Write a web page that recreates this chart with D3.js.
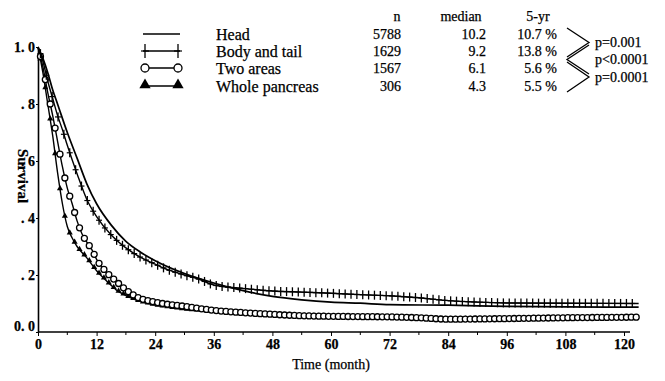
<!DOCTYPE html>
<html>
<head>
<meta charset="utf-8">
<script src="https://cdn.jsdelivr.net/npm/d3@7"></script>
<style>
  body { margin: 0; background: #fff; }
</style>
</head>
<body>
<div id="chart"></div>
<script>
// survival curves: [month, survival]
var headPts = [[0,1],[1,0.96],[2,0.91],[3,0.85],[4,0.80],[6,0.70],[8,0.61],[10,0.52],[12,0.45],[15,0.375],
  [18,0.318],[21,0.28],[24,0.25],[30,0.205],[36,0.172],[42,0.145],[48,0.125],[54,0.113],[60,0.105],[66,0.101],
  [72,0.096],[84,0.094],[96,0.09],[108,0.088],[123,0.087]];
var bodyPts = [[0,1],[1,0.95],[2,0.88],[3,0.82],[4,0.76],[5,0.71],[6,0.655],[8,0.555],[10,0.465],[12,0.405],
  [15,0.34],[18,0.295],[21,0.262],[24,0.238],[27,0.216],[30,0.2],[33,0.185],[36,0.165],[42,0.153],[48,0.144],
  [54,0.14],[60,0.136],[66,0.131],[72,0.127],[78,0.12],[84,0.11],[90,0.105],[96,0.102],[108,0.101],[123,0.1]];
var twoPts = [[0,1],[1,0.93],[2,0.84],[3,0.76],[4,0.67],[5,0.58],[6,0.505],[7,0.45],[8,0.39],[9,0.345],
  [10,0.315],[11,0.29],[12,0.255],[14,0.21],[16,0.178],[18,0.148],[20,0.125],[24,0.105],[30,0.09],[36,0.076],
  [42,0.068],[48,0.062],[54,0.057],[60,0.055],[66,0.054],[72,0.053],[78,0.05],[84,0.045],[96,0.047],[108,0.05],[123,0.052]];
var wholePts = [[0,1],[1,0.91],[2,0.80],[3,0.69],[4,0.56],[5,0.45],[6,0.37],[7,0.33],[8,0.3],[10,0.26],
  [12,0.215],[14,0.18],[16,0.148],[18,0.128],[20,0.113],[24,0.095],[30,0.08],[36,0.072],[42,0.065],[48,0.06],
  [54,0.056],[60,0.054],[66,0.052],[72,0.05],[84,0.044],[96,0.046],[108,0.048],[123,0.05]];

// legend / table
var groups = ["Head", "Body and tail", "Two areas", "Whole pancreas"];
var markerTypes = ["none", "plus", "circle", "triangle"];
var nValues = ["5788", "1629", "1567", "306"];
var medians = ["10.2", "9.2", "6.1", "4.3"];
var fiveYr = ["10.7 %", "13.8 %", "5.6 %", "5.5 %"];
var pValues = ["p=0.001", "p<0.0001", "p=0.0001"];

var xTicks = [0, 12, 24, 36, 48, 60, 72, 84, 96, 108, 120];
var yTicks = [0, 0.2, 0.4, 0.6, 0.8, 1.0];
var yTickLabels = ["0. 0", ". 2", ". 4", ". 6", ". 8", "1. 0"];

var W = 665, H = 381;

var svg = d3.select("#chart").append("svg")
  .attr("width", W)
  .attr("height", H);

// pick a Times-like face that is really installed
var probe = svg.append("text").style("font-size", "40px").text("Whole pancreas 5788");
function widthWith(f) { probe.style("font-family", f); return probe.node().getComputedTextLength(); }
var baseW = widthWith("monospace");
var serif = "serif";
["Liberation Serif", "Times New Roman", "Tinos", "Nimbus Roman", "FreeSerif"].some(function(f) {
  if (Math.abs(widthWith('"' + f + '", monospace') - baseW) > 0.5) { serif = '"' + f + '", serif'; return true; }
  return false;
});
probe.remove();

var x = d3.scaleLinear().domain([0, 120]).range([38, 624]);
var y = d3.scaleLinear().domain([0, 1]).range([332, 47]);

// axes
var xAxis = svg.append("g")
  .attr("transform", "translate(0," + y(0) + ")")
  .call(d3.axisBottom(x).tickValues(xTicks).tickSize(4).tickSizeOuter(0).tickPadding(3));
// minor ticks between labels
xAxis.selectAll(".minor")
  .data(xTicks.slice(0, -1).map(function(d) { return d + 6; }))
  .enter().append("line")
  .attr("x1", function(d) { return x(d); })
  .attr("x2", function(d) { return x(d); })
  .attr("y1", 0).attr("y2", 3)
  .attr("stroke", "#000");
xAxis.select(".domain").attr("stroke-width", 1.6).attr("d", "M" + x(0) + ",0H" + (x(120) + 6));
xAxis.selectAll("text").style("font-size", "14px").style("font-weight", "bold");

var yAxis = svg.append("g")
  .attr("transform", "translate(" + x(0) + ",0)")
  .call(d3.axisLeft(y).tickValues(yTicks).tickSize(2).tickSizeOuter(0).tickPadding(1)
    .tickFormat(function(d, i) { return yTickLabels[i]; }));
yAxis.select(".domain").attr("stroke-width", 1.6);
yAxis.selectAll("text").style("font-size", "14px").style("font-weight", "bold")
  .attr("dy", function(d) { return d === 0 ? "-0.1em" : "0.32em"; });

svg.append("text")
  .attr("x", 331).attr("y", 369)
  .attr("text-anchor", "middle")
  .style("font-size", "14px")
  .text("Time (month)");

svg.append("text")
  .attr("transform", "translate(18,176) rotate(90)")
  .attr("text-anchor", "middle")
  .style("font-size", "15px")
  .style("font-weight", "bold")
  .text("Survival");

// curves
var line = d3.line()
  .x(function(d) { return x(d[0]); })
  .y(function(d) { return y(d[1]); })
  .curve(d3.curveMonotoneX);

var allPts = [headPts, bodyPts, twoPts, wholePts];

function pointAtX(node, xv) {
  var lo = 0, hi = node.getTotalLength();
  for (var k = 0; k < 30; k++) {
    var mid = (lo + hi) / 2;
    if (node.getPointAtLength(mid).x < xv) lo = mid; else hi = mid;
  }
  return node.getPointAtLength(hi);
}

function drawMarker(g, type, px, py, big) {
  if (type === "plus") {
    var v = big ? 7 : 4.5, h = big ? 4 : 3;
    g.append("line").attr("x1", px).attr("x2", px).attr("y1", py - v).attr("y2", py + v)
      .attr("stroke", "#000").attr("stroke-width", 1.3);
    g.append("line").attr("x1", px - h).attr("x2", px + h).attr("y1", py).attr("y2", py)
      .attr("stroke", "#000").attr("stroke-width", 1.2);
  } else if (type === "circle") {
    g.append("circle").attr("cx", px).attr("cy", py).attr("r", big ? 4 : 3)
      .attr("fill", "#fff").attr("stroke", "#000").attr("stroke-width", 1.3);
  } else if (type === "triangle") {
    g.append("path")
      .attr("d", d3.symbol().type(d3.symbolTriangle).size(big ? 55 : 16)())
      .attr("transform", "translate(" + px + "," + (py - (big ? 1 : 0.5)) + ")")
      .attr("fill", "#000");
  }
}

// draw lower groups first so the top curves sit over them
[3, 2, 1, 0].forEach(function(i) {
  var g = svg.append("g");
  var p = g.append("path")
    .datum(allPts[i])
    .attr("d", line)
    .attr("fill", "none")
    .attr("stroke", "#000")
    .attr("stroke-width", i === 0 ? 1.7 : 1.4);
  if (markerTypes[i] !== "none") {
    var node = p.node();
    var step = markerTypes[i] === "plus" ? 1.2 : 1;
    for (var m = 0.5; m <= 122.5; m += step) {
      var pt = pointAtX(node, x(m));
      drawMarker(g, markerTypes[i], pt.x, pt.y, false);
    }
  }
});

// legend and table
var rowY = [34, 51, 68, 86];
var leg = svg.append("g").style("font-size", "14px");

groups.forEach(function(name, i) {
  var yy = rowY[i];
  leg.append("line").attr("x1", 143).attr("x2", 180).attr("y1", yy).attr("y2", yy)
    .attr("stroke", "#000").attr("stroke-width", 1.4);
  if (markerTypes[i] !== "none") {
    drawMarker(leg, markerTypes[i], 145, yy, true);
    drawMarker(leg, markerTypes[i], 178, yy, true);
  }
  leg.append("text").attr("x", 216).attr("y", yy).attr("dy", "0.35em")
    .style("font-size", "16px").text(name);
  leg.append("text").attr("x", 401).attr("y", yy).attr("dy", "0.35em")
    .attr("text-anchor", "end").text(nValues[i]);
  leg.append("text").attr("x", 486).attr("y", yy).attr("dy", "0.35em")
    .attr("text-anchor", "end").text(medians[i]);
  leg.append("text").attr("x", 557).attr("y", yy).attr("dy", "0.35em")
    .attr("text-anchor", "end").text(fiveYr[i]);
});

leg.append("text").attr("x", 397).attr("y", 16).attr("dy", "0.35em").attr("text-anchor", "middle").text("n");
leg.append("text").attr("x", 461).attr("y", 16).attr("dy", "0.35em").attr("text-anchor", "middle").text("median");
leg.append("text").attr("x", 538).attr("y", 16).attr("dy", "0.35em").attr("text-anchor", "middle").text("5-yr");

// brackets between neighbouring rows
pValues.forEach(function(p, i) {
  var y1 = rowY[i] - 6, y2 = rowY[i + 1] + 6, ym = (y1 + y2) / 2;
  var d = i % 2 === 0
    ? "M567," + y1 + "L589," + ym + "L567," + y2
    : "M589," + y1 + "L567," + ym + "L589," + y2;
  leg.append("path").attr("d", d).attr("fill", "none").attr("stroke", "#000").attr("stroke-width", 1.3);
  leg.append("text").attr("x", 595).attr("y", ym).attr("dy", "0.35em").text(p);
});

// serif everywhere, slightly heavy like the printed figure
svg.selectAll("text")
  .style("font-family", serif)
  .style("stroke", "#000")
  .style("stroke-width", "0.25px");
</script>
</body>
</html>
